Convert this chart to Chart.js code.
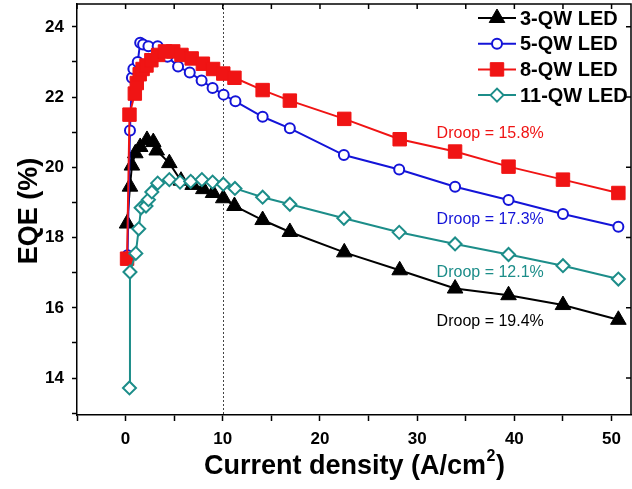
<!DOCTYPE html>
<html>
<head>
<meta charset="utf-8">
<script src="https://cdn.jsdelivr.net/npm/chart.js@4.4.0/dist/chart.umd.min.js"></script>
<style>
html, body { margin: 0; padding: 0; background: #fff; }
</style>
</head>
<body>
<canvas id="eqe" width="632" height="489"></canvas>
<script>
// current density (A/cm2) and EQE (%)
const qw3J   = [0.15, 0.45, 0.65, 1.0, 1.5, 2.2, 2.85, 3.2, 4.5, 5.7, 6.9, 8.0, 9.0, 10.05, 11.2, 14.1, 16.9, 22.5, 28.2, 33.9, 39.4, 45.0, 50.7];
const qw3Eqe = [18.4, 19.45, 20.05, 20.4, 20.58, 20.78, 20.72, 20.48, 20.12, 19.62, 19.5, 19.38, 19.27, 19.12, 18.9, 18.5, 18.16, 17.58, 17.07, 16.55, 16.36, 16.08, 15.66];

const qw5J   = [0.2, 0.45, 0.65, 0.8, 1.25, 1.5, 1.8, 2.35, 3.3, 4.3, 5.4, 6.6, 7.82, 8.95, 10.08, 11.3, 14.1, 16.9, 22.46, 28.15, 33.9, 39.4, 45.0, 50.7];
const qw5Eqe = [17.5, 21.05, 22.55, 22.8, 23.0, 23.55, 23.5, 23.45, 23.45, 23.15, 22.87, 22.7, 22.47, 22.26, 22.07, 21.88, 21.44, 21.11, 20.35, 19.94, 19.45, 19.07, 18.67, 18.31];

const qw8J   = [0.15, 0.4, 0.95, 1.15, 1.45, 1.75, 2.15, 2.65, 3.35, 4.05, 4.9, 5.75, 6.8, 7.95, 9.0, 10.05, 11.2, 14.1, 16.9, 22.5, 28.2, 33.9, 39.4, 45.0, 50.7];
const qw8Eqe = [17.4, 21.5, 22.1, 22.4, 22.65, 22.8, 22.9, 23.05, 23.2, 23.3, 23.3, 23.2, 23.1, 22.95, 22.8, 22.67, 22.55, 22.2, 21.9, 21.38, 20.8, 20.45, 20.02, 19.65, 19.27];

const qw11J   = [0.4, 0.45, 1.05, 1.35, 1.6, 2.1, 2.35, 2.7, 3.3, 4.5, 5.6, 6.7, 7.85, 8.95, 10.05, 11.25, 14.1, 16.9, 22.46, 28.15, 33.9, 39.4, 45.0, 50.7];
const qw11Eqe = [13.72, 17.02, 17.55, 18.25, 18.85, 18.9, 19.08, 19.3, 19.55, 19.65, 19.58, 19.6, 19.65, 19.58, 19.52, 19.4, 19.15, 18.95, 18.55, 18.15, 17.82, 17.52, 17.2, 16.82];

const seriesNames = ['3-QW LED', '5-QW LED', '8-QW LED', '11-QW LED'];
const droopText   = ['Droop = 19.4%', 'Droop = 17.3%', 'Droop = 15.8%', 'Droop = 12.1%'];
const droopY      = [15.6, 18.5, 20.95, 16.99];   // where each note sits (EQE)
const droopX      = 32;
const refLineX    = 10;

const FONT = "'Liberation Sans', Arial, sans-serif";

function pts(xs, ys) {
    return xs.map((x, i) => ({ x: x, y: ys[i] }));
}

function drawMarker(ctx, ds, x, y) {
    const r = ds.pointRadius;
    ctx.save();
    ctx.fillStyle = ds.pointBackgroundColor;
    ctx.strokeStyle = ds.pointBorderColor;
    ctx.lineWidth = ds.pointBorderWidth;
    ctx.beginPath();
    if (ds.pointStyle === 'triangle') {
        for (let k = 0; k < 3; k++) {
            const a = k * 2 * Math.PI / 3;
            ctx.lineTo(x + Math.sin(a) * r, y - Math.cos(a) * r);
        }
        ctx.closePath();
    } else if (ds.pointStyle === 'rect') {
        const s = r * Math.SQRT1_2;
        ctx.rect(x - s, y - s, 2 * s, 2 * s);
    } else if (ds.pointStyle === 'rectRot') {
        ctx.moveTo(x - r, y);
        ctx.lineTo(x, y - r);
        ctx.lineTo(x + r, y);
        ctx.lineTo(x, y + r);
        ctx.closePath();
    } else {
        ctx.arc(x, y, r, 0, Math.PI * 2);
    }
    ctx.fill();
    ctx.stroke();
    ctx.restore();
}

// frame, mirrored ticks, dotted line at 10 A/cm2, legend, notes and axis titles
const decor = {
    id: 'decor',
    beforeDatasetsDraw(chart) {
        const ctx = chart.ctx, a = chart.chartArea;
        const px = chart.scales.x.getPixelForValue(refLineX);
        ctx.save();
        ctx.strokeStyle = '#444';
        ctx.lineWidth = 1;
        ctx.setLineDash([2, 2]);
        ctx.beginPath();
        ctx.moveTo(Math.round(px) + 0.5, a.top);
        ctx.lineTo(Math.round(px) + 0.5, a.bottom);
        ctx.stroke();
        ctx.restore();
    },
    afterDraw(chart) {
        const ctx = chart.ctx, a = chart.chartArea;
        const xs = chart.scales.x, ys = chart.scales.y;
        ctx.save();
        ctx.strokeStyle = '#000';
        ctx.lineWidth = 1.5;
        ctx.beginPath();
        ctx.moveTo(a.left, a.top);
        ctx.lineTo(a.right, a.top);
        ctx.lineTo(a.right, a.bottom);
        ctx.stroke();
        ctx.beginPath();
        for (let v = -5; v <= 50; v += 5) {
            const p = xs.getPixelForValue(v);
            ctx.moveTo(p, a.top);
            ctx.lineTo(p, a.top + 5);
        }
        for (let v = 14; v <= 24; v += 2) {
            const p = ys.getPixelForValue(v);
            ctx.moveTo(a.right, p);
            ctx.lineTo(a.right - 5, p);
        }
        ctx.stroke();

        // legend
        ctx.font = 'bold 20px ' + FONT;
        ctx.textBaseline = 'middle';
        ctx.textAlign = 'left';
        chart.data.datasets.forEach((ds, i) => {
            const y = 18 + i * 25.7;
            ctx.strokeStyle = ds.borderColor;
            ctx.lineWidth = 2;
            ctx.beginPath();
            ctx.moveTo(478, y);
            ctx.lineTo(516, y);
            ctx.stroke();
            drawMarker(ctx, ds, 497, y);
            ctx.fillStyle = '#000';
            ctx.fillText(ds.label, 520, y + 1);
        });

        // droop notes
        ctx.font = '16px ' + FONT;
        chart.data.datasets.forEach((ds, i) => {
            ctx.fillStyle = ds.borderColor;
            ctx.fillText(droopText[i], xs.getPixelForValue(droopX), ys.getPixelForValue(droopY[i]));
        });

        // axis titles
        ctx.fillStyle = '#000';
        const big = 'bold 27px ' + FONT, small = 'bold 16px ' + FONT;
        const t1 = 'Current density (A/cm', t2 = '2', t3 = ')';
        ctx.font = big;
        const w1 = ctx.measureText(t1).width, w3 = ctx.measureText(t3).width;
        ctx.font = small;
        const w2 = ctx.measureText(t2).width;
        let x0 = 354 - (w1 + w2 + w3) / 2;
        ctx.textAlign = 'left';
        ctx.font = big;
        ctx.fillText(t1, x0, 467);
        ctx.font = small;
        ctx.fillText(t2, x0 + w1 + 0.5, 457);
        ctx.font = big;
        ctx.fillText(t3, x0 + w1 + w2 + 1, 467);

        ctx.textAlign = 'center';
        ctx.translate(30, 211);
        ctx.rotate(-Math.PI / 2);
        ctx.fillText('EQE (%)', 0, 0);
        ctx.restore();
    }
};

const tickFont = { family: FONT, size: 17, weight: 'bold' };

new Chart(document.getElementById('eqe'), {
    type: 'line',
    data: {
        datasets: [{
            label: seriesNames[0],
            data: pts(qw3J, qw3Eqe),
            borderColor: '#000000',
            borderWidth: 2,
            pointStyle: 'triangle',
            pointRadius: 9,
            pointBackgroundColor: '#000000',
            pointBorderColor: '#000000',
            pointBorderWidth: 1,
            order: 4
        }, {
            label: seriesNames[1],
            data: pts(qw5J, qw5Eqe),
            borderColor: '#1414d8',
            borderWidth: 2,
            pointStyle: 'circle',
            pointRadius: 5,
            pointBackgroundColor: '#ffffff',
            pointBorderColor: '#1414d8',
            pointBorderWidth: 2,
            order: 3
        }, {
            label: seriesNames[2],
            data: pts(qw8J, qw8Eqe),
            borderColor: '#f01414',
            borderWidth: 2,
            pointStyle: 'rect',
            pointRadius: 9.5,
            pointBackgroundColor: '#f01414',
            pointBorderColor: '#f01414',
            pointBorderWidth: 1,
            order: 2
        }, {
            label: seriesNames[3],
            data: pts(qw11J, qw11Eqe),
            borderColor: '#1c8d89',
            borderWidth: 2,
            pointStyle: 'rectRot',
            pointRadius: 6.5,
            pointBackgroundColor: '#ffffff',
            pointBorderColor: '#1c8d89',
            pointBorderWidth: 2,
            order: 1
        }]
    },
    options: {
        responsive: false,
        animation: false,
        devicePixelRatio: 1,
        events: [],
        layout: { autoPadding: false, padding: { top: 4, right: 1, left: 0, bottom: 0 } },
        plugins: {
            legend: { display: false },
            tooltip: { enabled: false }
        },
        scales: {
            x: {
                type: 'linear',
                min: -5,
                max: 52,
                afterFit(scale) {
                    scale.height = 74;
                    scale.paddingLeft = 0;
                    scale.paddingRight = 0;
                },
                border: { display: true, color: '#000', width: 1.5 },
                grid: { drawOnChartArea: false, drawTicks: true, tickLength: 6, tickColor: '#000', tickWidth: 1.5 },
                ticks: {
                    stepSize: 5,
                    autoSkip: false,
                    includeBounds: false,
                    maxRotation: 0,
                    padding: 8,
                    color: '#000',
                    font: tickFont,
                    callback: v => (v % 10 === 0 ? v : '')
                }
            },
            y: {
                min: 12.95,
                max: 24.65,
                afterFit(scale) {
                    scale.width = 77;
                    scale.paddingTop = 0;
                    scale.paddingBottom = 0;
                },
                border: { display: true, color: '#000', width: 1.5 },
                grid: { drawOnChartArea: false, drawTicks: true, tickLength: 5, tickColor: '#000', tickWidth: 1.5 },
                ticks: {
                    stepSize: 1,
                    autoSkip: false,
                    includeBounds: false,
                    padding: 8,
                    color: '#000',
                    font: tickFont,
                    callback: v => (Math.round(v) % 2 === 0 ? Math.round(v) : '')
                }
            }
        }
    },
    plugins: [decor]
});
</script>
</body>
</html>
